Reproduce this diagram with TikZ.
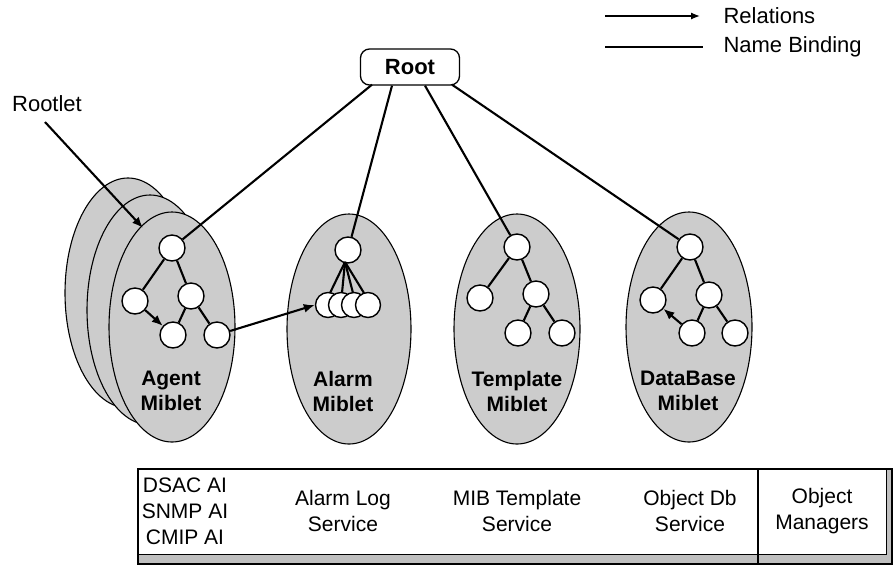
\documentclass[tikz,border=0pt]{standalone}
\usepackage{fontspec}
\setmainfont{Liberation Sans}
\usetikzlibrary{arrows.meta,calc,shapes.geometric}
\begin{document}
\begin{tikzpicture}[x=1pt,y=-1pt,
  miblet/.style={ellipse,draw=black,line width=1.1pt,fill=black!20,minimum width=126pt,minimum height=230pt,inner sep=0pt},
  obj/.style={circle,draw=black,fill=white,line width=1.4pt,minimum size=26pt,inner sep=0pt},
  mlabel/.style={align=center,font=\bfseries\fontsize{21}{25}\selectfont},
  btext/.style={align=center,font=\fontsize{21}{26}\selectfont},
  txt/.style={font=\fontsize{22}{26}\selectfont},
  link/.style={line width=2.1pt},
  rel/.style={line width=2.1pt,-{Latex[length=11pt,width=9pt]}}]
\useasboundingbox (0,0) rectangle (893,565);

% legend
\coordinate (la1) at (605,16);
\coordinate (la2) at (700,16);
\coordinate (lb1) at (605,47);
\coordinate (lb2) at (703,47);
\draw[line width=1.3pt,-{Latex[length=9pt,width=7pt]}] (la1) -- (la2);
\draw[line width=1.3pt] (lb1) -- (lb2);
\node[txt,anchor=west] (lrel) at (720,16) {Relations};
\node[txt,anchor=west] (lnb) at (720,47) {Name Binding};

% root
\node[draw,line width=1.3pt,rounded corners=9pt,minimum width=99pt,minimum height=36pt,fill=white,font=\bfseries\fontsize{22}{26}\selectfont] (root) at (410,67) {Root};

% miblets
\node[miblet] (agent3) at (128,293) {};
\node[miblet] (agent2) at (150,310) {};
\node[miblet] (agent) at (172,327) {};
\node[miblet,minimum width=124pt] (alarm) at (349,329) {};
\node[miblet] (templ) at (517,329) {};
\node[miblet] (db) at (689,327) {};

% labels
\node[mlabel] (agentl) at (171,391) {Agent\\Miblet};
\node[mlabel] (alarml) at (343,391) {Alarm\\Miblet};
\node[mlabel] (templl) at (517,391) {Template\\Miblet};
\node[mlabel] (dbl) at (688,391) {DataBase\\Miblet};

% Rootlet
\node[txt] (rootlet) at (47,104) {Rootlet};
\coordinate (rs) at (45,122);
\coordinate (rtip) at (143,228);
\draw[rel] (rs) -- (rtip);

% agent tree
\node[obj] (a1) at (172,248) {};
\node[obj] (a2) at (135,301) {};
\node[obj] (a3) at (191,296) {};
\node[obj] (a4) at (173,335) {};
\node[obj] (a5) at (217,335) {};
\draw[link] (a1) -- (a2);
\draw[link] (a1) -- (a3);
\draw[link] (a3) -- (a4);
\draw[link] (a3) -- (a5);
\draw[rel] (a2) -- (a4);

% alarm tree
\node[obj] (b0) at (348,250) {};
\coordinate (bj) at (345,262);
\draw[link] (bj) -- (330,293);
\draw[link] (bj) -- (342,293);
\draw[link] (bj) -- (353,293);
\draw[link] (bj) -- (364,293);
\node[obj,minimum size=25pt] (b1) at (328,305) {};
\node[obj,minimum size=25pt] (b2) at (341,305) {};
\node[obj,minimum size=25pt] (b3) at (354,305) {};
\node[obj,minimum size=25pt] (b4) at (368,305) {};
\draw[rel] (a5) -- (b1.west);

% template tree
\node[obj] (t1) at (517,247) {};
\node[obj] (t2) at (480,298) {};
\node[obj] (t3) at (536,294) {};
\node[obj] (t4) at (518,333) {};
\node[obj] (t5) at (562,333) {};
\draw[link] (t1) -- (t2);
\draw[link] (t1) -- (t3);
\draw[link] (t3) -- (t4);
\draw[link] (t3) -- (t5);

% database tree
\node[obj] (d1) at (690,247) {};
\node[obj] (d2) at (653,300) {};
\node[obj] (d3) at (709,295) {};
\node[obj] (d4) at (692,333) {};
\node[obj] (d5) at (735,333) {};
\draw[link] (d1) -- (d2);
\draw[link] (d1) -- (d3);
\draw[link] (d3) -- (d4);
\draw[link] (d3) -- (d5);
\draw[rel] (d4) -- (d2);

% root links
\draw[link] ($(root.south)+(-38,-1)$) -- (a1);
\draw[link] ($(root.south)+(-18,0)$) -- (b0);
\draw[link] ($(root.south)+(15,0)$) -- (t1);
\draw[link] ($(root.south)+(42,-1)$) -- (d1);

% bottom box
\fill[black!25] (138,554) rectangle (892,564);
\fill[black!25] (886,469) rectangle (892,564);
\draw[line width=1.3pt] (138,469) rectangle (892,564);
\draw[line width=0.6pt] (138,554) -- (886,554) -- (886,469);
\draw[line width=1.5pt] (758,469) -- (758,564);
\node[btext] (s1) at (185,511) {DSAC AI\\SNMP AI\\CMIP AI};
\node[btext] (s2) at (343,511) {Alarm Log\\Service};
\node[btext] (s3) at (517,511) {MIB Template\\Service};
\node[btext] (s4) at (690,511) {Object Db\\Service};
\node[btext] (s5) at (822,511) {Object\\Managers};
\end{tikzpicture}
\end{document}
